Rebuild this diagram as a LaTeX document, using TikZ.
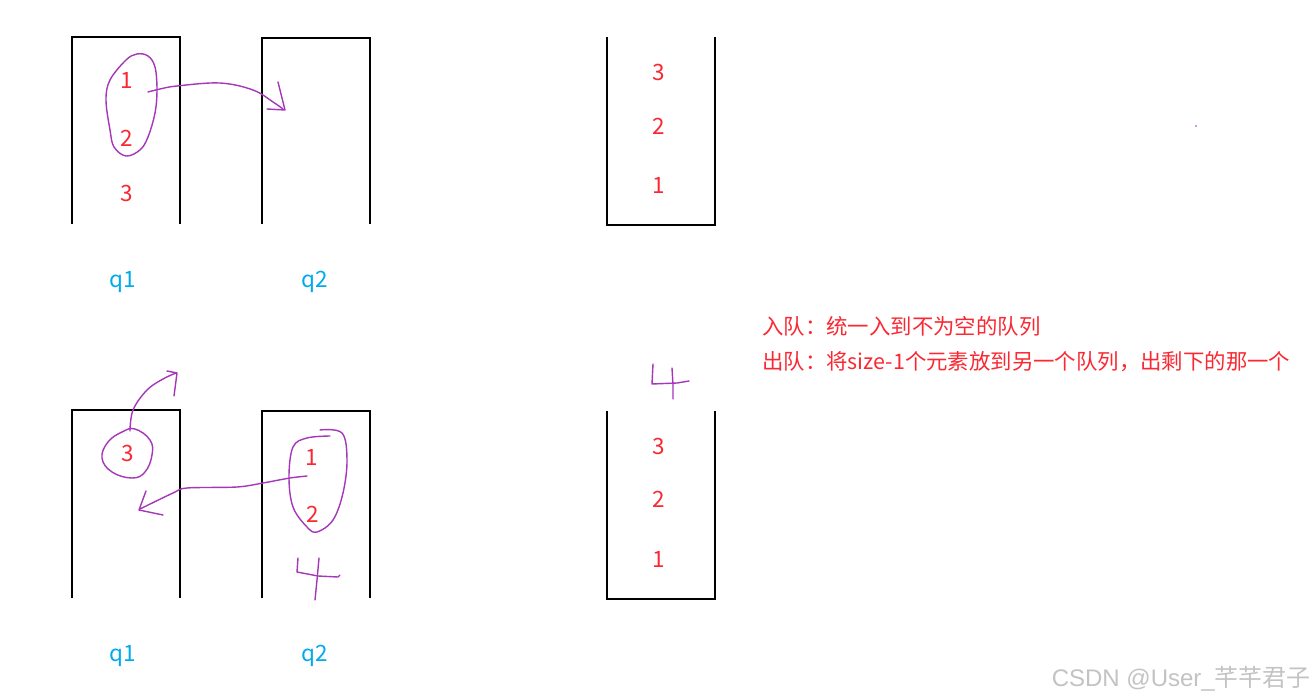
\documentclass[tikz,border=0pt]{standalone}
\usepackage{fontspec}
\setmainfont{Noto Sans CJK SC}
\newfontfamily\wmlatin{Liberation Sans}
\begin{document}
\begin{tikzpicture}[x=1pt,y=-1pt,
  box/.style={line width=2.2pt,black},
  num/.style={text=numred,font=\fontsize{22.5}{26}\selectfont,inner sep=0pt},
  qlab/.style={text=qblue,font=\fontsize{22.5}{26}\selectfont,inner sep=0pt},
  note/.style={text=numred,font=\fontsize{21.4}{25}\selectfont,inner sep=0pt,anchor=west},
  ink/.style={draw=inkpurple,line width=1.4pt,line cap=round,line join=round}]
\definecolor{numred}{RGB}{250,40,50}
\definecolor{qblue}{RGB}{0,170,235}
\definecolor{inkpurple}{RGB}{165,55,185}
\definecolor{wmgray}{RGB}{195,195,195}
\fill[white] (0,0) rectangle (1314,700);
\useasboundingbox (0,0) rectangle (1314,700);

% ---- top row boxes (open at bottom)
\draw[box] (72,224) -- (72,37) -- (180,37) -- (180,224);
\draw[box] (262,224) -- (262,38) -- (370,38) -- (370,224);
% ---- bottom row boxes
\draw[box] (72,598) -- (72,410) -- (180,410) -- (180,598);
\draw[box] (262,598) -- (262,411) -- (370,411) -- (370,598);
% ---- stacks (open at top)
\draw[box] (607,37) -- (607,225) -- (715,225) -- (715,37);
\draw[box] (607,411) -- (607,599) -- (715,599) -- (715,411);

% ---- numbers
\node[num] (a1) at (127,80) {1};
\node[num] (a2) at (127,138) {2};
\node[num] (a3) at (127,193) {3};
\node[qlab] (tq1) at (123,282) {q1};
\node[qlab] (tq2) at (315,282) {q2};

\node[num] (b3) at (128,453) {3};
\node[num] (c1) at (312,457) {1};
\node[num] (c2) at (313,514) {2};
\node[qlab] (bq1) at (123,656) {q1};
\node[qlab] (bq2) at (315,656) {q2};

\node[num] (s3) at (659,72) {3};
\node[num] (s2) at (659,126) {2};
\node[num] (s1) at (659,185) {1};
\node[num] (t3) at (659,446) {3};
\node[num] (t2) at (659,499) {2};
\node[num] (t1) at (659,559) {1};

% ---- notes
\node[note] (n1) at (762,326) {入队：统一入到不为空的队列};
\node[note] (n2) at (762,362) {出队：将size-1个元素放到另一个队列，出剩下的那一个};

% ---- watermark
\node[text=wmgray,font=\fontsize{24}{28}\selectfont,inner sep=0pt,anchor=east] (wm) at (1311,679) {{\wmlatin CSDN @User\_}芊芊君子};

% ---- hand drawn ink (top)
\draw[ink] plot[smooth cycle,tension=0.6] coordinates {(137,54) (126,60) (110,80) (106,100) (110,130) (114,147) (126,156) (140,150) (148,137) (155,113) (157,90) (155,67) (148,56)};
\draw[ink] plot[smooth,tension=0.6] coordinates {(148,92) (160,89) (177,86) (220,83) (253,90) (273,102) (283,109)};
\draw[ink] (278,82) -- (285,110) -- (267,109);

% ---- hand drawn ink (bottom)
\draw[ink] plot[smooth cycle,tension=0.7] coordinates {(135,429) (150,440) (152,455) (145,472) (132,478) (112,472) (102,458) (108,442) (122,432)};
\draw[ink] plot[smooth,tension=0.6] coordinates {(130,431) (133,410) (147,390) (163,379) (176,373)};
\draw[ink] (167,371) -- (177,373) -- (174,396);

\draw[ink] plot[smooth,tension=0.5] coordinates {(307,476) (290,478) (263,483) (237,487) (187,488) (173,493) (140,509)};
\draw[ink] (146,491) -- (139,510) -- (163,515);

\draw[ink] plot[smooth,tension=0.6] coordinates {(320,430) (342,433) (347,460) (343,493) (333,520) (317,532) (307,527) (293,507) (289,477) (293,447) (307,438) (330,436)};

% ---- the two handwritten 4s
\draw[ink] (298,558) -- (297,572) -- (318,576) -- (338,577) -- (340,575);
\draw[ink] (319,558) -- (317,580) -- (315,600);
\draw[ink] (653,364) -- (652,384) -- (677,383) -- (689,381);
\draw[ink] (672,368) -- (673,385) -- (673,399);

% ---- stray dot
\fill[inkpurple] (1196,126) circle (0.9);
\end{tikzpicture}
\end{document}
